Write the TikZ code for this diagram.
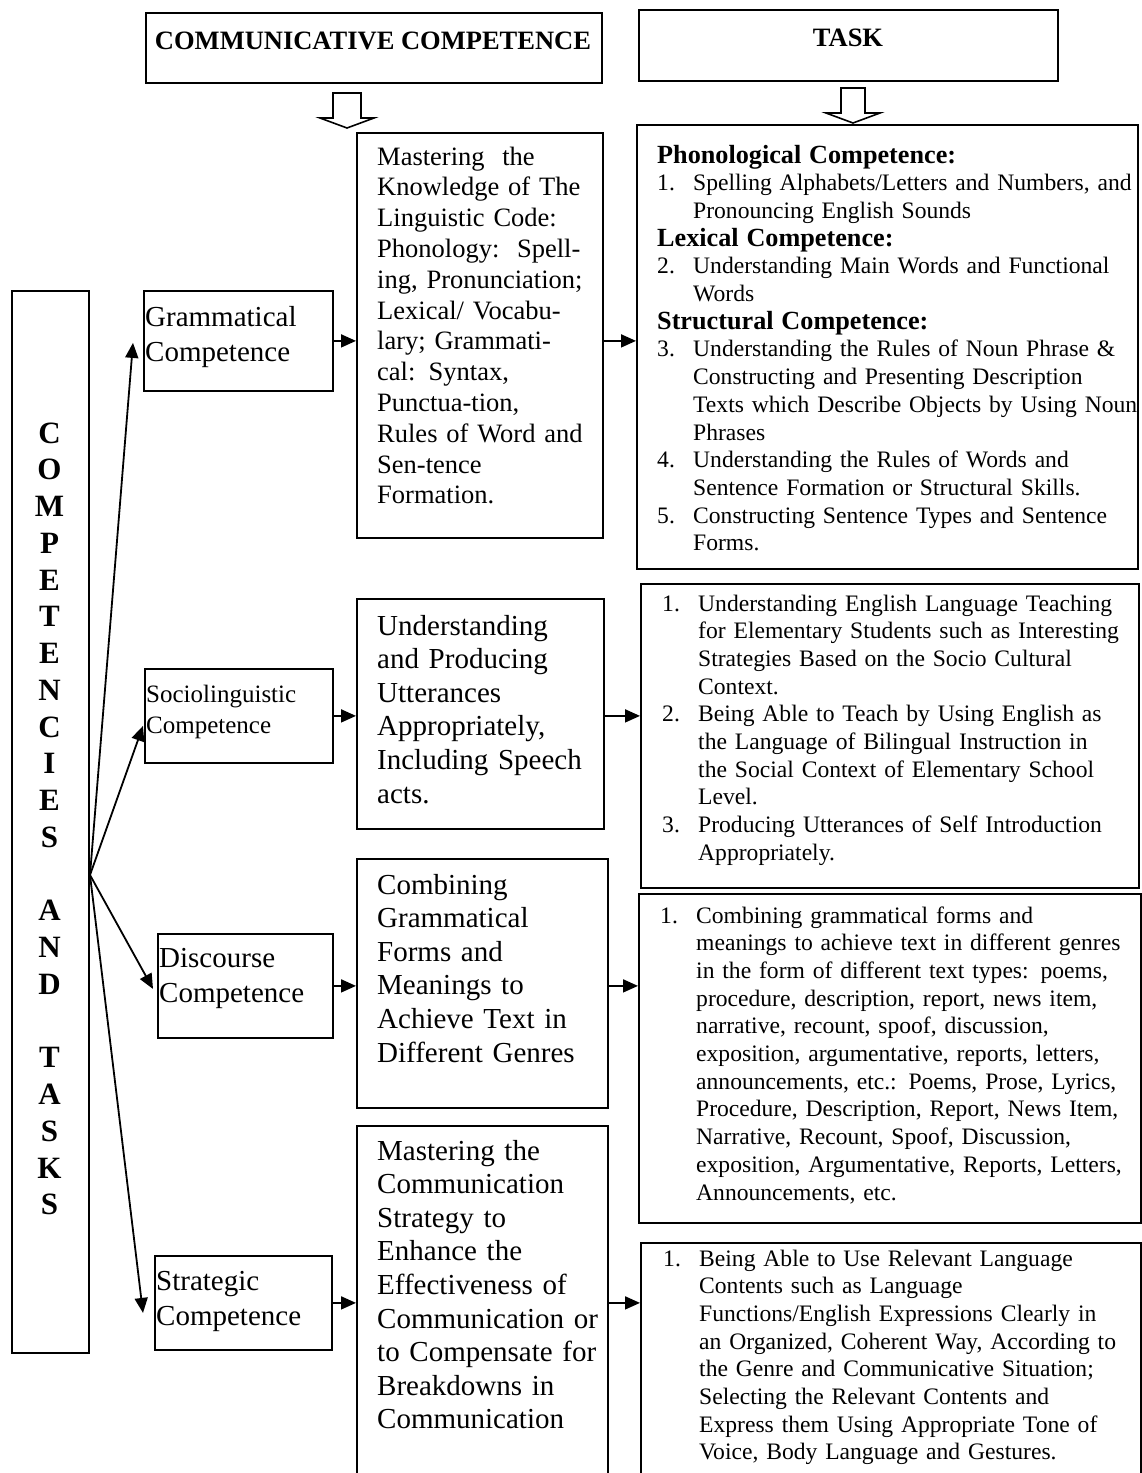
\documentclass[tikz,border=0pt]{standalone}
\usepackage{fontspec}
\setmainfont{Liberation Serif}
\usetikzlibrary{arrows.meta,calc}
\newcommand\fHead{\fontsize{26.5}{30}\selectfont\bfseries}
\newcommand\fVert{\fontsize{31}{36.76}\selectfont\bfseries}
\newcommand\fLeftA{\fontsize{29}{35}\selectfont}
\newcommand\fLeftB{\fontsize{25}{31}\selectfont}
\newcommand\fMidA{\fontsize{26.5}{30.8}\selectfont}
\newcommand\fMidB{\fontsize{29}{33.6}\selectfont}
\newcommand\fTask{\fontsize{23.6}{27.7}\selectfont}
\newcommand\hdg[1]{{\fontsize{26.2}{27.7}\selectfont\bfseries #1}}
\newcommand\numlab[1]{\makebox[36pt][l]{#1}}
\newcommand\indt{\hspace*{36pt}}
\begin{document}
\begin{tikzpicture}[x=1pt,y=-1pt,
  box/.style={draw,line width=1.8pt,inner sep=0pt,anchor=north west},
  txt/.style={anchor=base west,inner sep=0pt,align=left,text width=#1},
  arr/.style={line width=1.8pt,-{Triangle[length=15pt,width=13pt]}},
  hollow/.style={draw,line width=1.6pt,fill=white,line join=miter}
]
\useasboundingbox (0,0) rectangle (1141,1473);

% header boxes
\node[box,minimum width=456pt,minimum height=70pt] (comm) at (145,12) {};
\node[box,minimum width=419pt,minimum height=71pt] (task) at (638,9) {};
\node[font=\fHead,anchor=base] (commt) at (373,49) {COMMUNICATIVE COMPETENCE};
\node[font=\fHead,anchor=base] (taskt) at (848,46) {TASK};

% hollow arrows
\draw[hollow] (333,93) coordinate (ca1) -- (361,93) -- (361,118) -- (374,118)
  -- (347,128) coordinate (ca2) -- (320,118) -- (333,118) -- cycle;
\draw[hollow] (841,88) coordinate (ta1) -- (865,88) -- (865,113) -- (880,113)
  -- (853,123) coordinate (ta2) -- (826,113) -- (841,113) -- cycle;

% left tall box
\node[box,minimum width=77pt,minimum height=1062pt] (ct) at (11,290) {};
\node[font=\fVert,anchor=base,align=center,text width=60pt,inner sep=0pt] (ctt) at (49.5,443)
  {C\\O\\M\\P\\E\\T\\E\\N\\C\\I\\E\\S\\[36.76pt]A\\N\\D\\[36.76pt]T\\A\\S\\K\\S};
\coordinate (fan) at (90,875);

% competence boxes
\node[box,minimum width=189pt,minimum height=100pt] (g) at (143,290) {};
\node[box,minimum width=188pt,minimum height=94pt] (s) at (144,668) {};
\node[box,minimum width=175pt,minimum height=104pt] (d) at (157,933) {};
\node[box,minimum width=177pt,minimum height=94pt] (st) at (154,1255) {};
\node[txt=185pt,font=\fLeftA] (gt) at (145,326) {Grammatical\\Competence};
\node[txt=185pt,font=\fLeftB] (sttx) at (146,702) {Sociolinguistic\\Competence};
\node[txt=175pt,font=\fLeftA] (dt) at (159,967) {Discourse\\Competence};
\node[txt=175pt,font=\fLeftA] (stt) at (156,1290) {Strategic\\Competence};

% middle boxes
\node[box,minimum width=246pt,minimum height=405pt] (m1) at (356,132) {};
\node[box,minimum width=247pt,minimum height=230pt] (m2) at (356,598) {};
\node[box,minimum width=251pt,minimum height=249pt] (m3) at (356,858) {};
\node[box,minimum width=251pt,minimum height=370pt] (m4) at (356,1125) {};
\node[txt=240pt,font=\fMidA] (m1t) at (377,165)
  {Mastering\ \ the\\Knowledge of The\\Linguistic Code:\\Phonology:\ \ Spell-\\ing, Pronunciation;\\Lexical/ Vocabu-\\lary; Grammati-\\cal: Syntax,\\Punctua-tion,\\Rules of Word and\\Sen-tence\\Formation.};
\node[txt=240pt,font=\fMidB] (m2t) at (377,635)
  {Understanding\\and Producing\\Utterances\\Appropriately,\\Including Speech\\acts.};
\node[txt=240pt,font=\fMidB] (m3t) at (377,894)
  {Combining\\Grammatical\\Forms and\\Meanings to\\Achieve Text in\\Different Genres};
\node[txt=240pt,font=\fMidB] (m4t) at (377,1160)
  {Mastering the\\Communication\\Strategy to\\Enhance the\\Effectiveness of\\Communication or\\to Compensate for\\Breakdowns in\\Communication};

% task boxes
\node[box,minimum width=501pt,minimum height=444pt] (t1) at (636,124) {};
\node[box,minimum width=498pt,minimum height=304pt] (t2) at (640,583) {};
\node[box,minimum width=502pt,minimum height=329pt] (t3) at (638,893) {};
\node[box,minimum width=500pt,minimum height=250pt] (t4) at (640,1242) {};
\node[txt=520pt,font=\fTask] (t1t) at (657,163)
  {\hdg{Phonological Competence:}\\
   \numlab{1.}Spelling Alphabets/Letters and Numbers, and\\
   \indt Pronouncing English Sounds\\
   \hdg{Lexical Competence:}\\
   \numlab{2.}Understanding Main Words and Functional\\
   \indt Words\\
   \hdg{Structural Competence:}\\
   \numlab{3.}Understanding the Rules of Noun Phrase \&\\
   \indt Constructing and Presenting Description\\
   \indt Texts which Describe Objects by Using Noun\\
   \indt Phrases\\
   \numlab{4.}Understanding the Rules of Words and\\
   \indt Sentence Formation or Structural Skills.\\
   \numlab{5.}Constructing Sentence Types and Sentence\\
   \indt Forms.};
\node[txt=520pt,font=\fTask] (t2t) at (662,611)
  {\numlab{1.}Understanding English Language Teaching\\
   \indt for Elementary Students such as Interesting\\
   \indt Strategies Based on the Socio Cultural\\
   \indt Context.\\
   \numlab{2.}Being Able to Teach by Using English as\\
   \indt the Language of Bilingual Instruction in\\
   \indt the Social Context of Elementary School\\
   \indt Level.\\
   \numlab{3.}Producing Utterances of Self Introduction\\
   \indt Appropriately.};
\node[txt=520pt,font=\fTask] (t3t) at (660,923)
  {\numlab{1.}Combining grammatical forms and\\
   \indt meanings to achieve text in different genres\\
   \indt in the form of different text types: poems,\\
   \indt procedure, description, report, news item,\\
   \indt narrative, recount, spoof, discussion,\\
   \indt exposition, argumentative, reports, letters,\\
   \indt announcements, etc.: Poems, Prose, Lyrics,\\
   \indt Procedure, Description, Report, News Item,\\
   \indt Narrative, Recount, Spoof, Discussion,\\
   \indt exposition, Argumentative, Reports, Letters,\\
   \indt Announcements, etc.};
\node[txt=520pt,font=\fTask] (t4t) at (663,1266)
  {\numlab{1.}Being Able to Use Relevant Language\\
   \indt Contents such as Language\\
   \indt Functions/English Expressions Clearly in\\
   \indt an Organized, Coherent Way, According to\\
   \indt the Genre and Communicative Situation;\\
   \indt Selecting the Relevant Contents and\\
   \indt Express them Using Appropriate Tone of\\
   \indt Voice, Body Language and Gestures.};

% fan arrows
\draw[arr] (fan) -- ($(g.west)+(-10,2)$);
\draw[arr] (fan) -- ($(s.west)+(-1,10)$);
\draw[arr] (fan) -- ($(d.west)+(-4,3)$);
\draw[arr] (fan) -- ($(st.west)+(-11,10)$);

% horizontal arrows
\draw[arr] (g.east) -- (g.east -| m1.west);
\draw[arr] (g.east -| m1.east) -- (g.east -| t1.west);
\draw[arr] (s.east) -- (s.east -| m2.west);
\draw[arr] (s.east -| m2.east) -- (s.east -| t2.west);
\draw[arr] (d.east) -- (d.east -| m3.west);
\draw[arr] (d.east -| m3.east) -- (d.east -| t3.west);
\draw[arr] (st.east) -- (st.east -| m4.west);
\draw[arr] (st.east -| m4.east) -- (st.east -| t4.west);
\end{tikzpicture}
\end{document}
